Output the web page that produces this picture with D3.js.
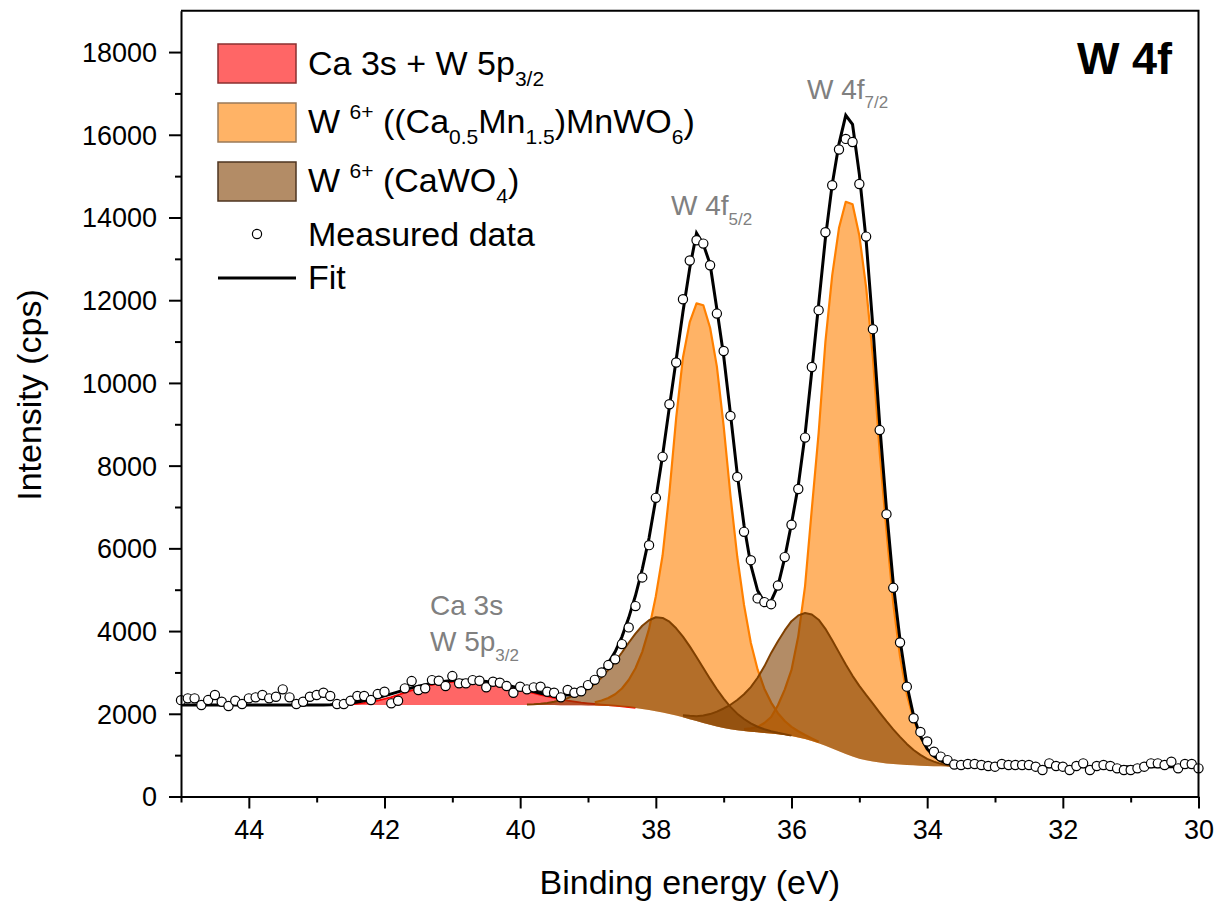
<!DOCTYPE html>
<html><head><meta charset="utf-8">
<script src="https://cdn.jsdelivr.net/npm/d3@7"></script>
<style>
html,body{margin:0;padding:0;background:#fff;}
svg{display:block;font-family:"Liberation Sans", Arial, Helvetica, sans-serif;}
text{white-space:pre;}
</style></head><body>
<svg id="chart" width="1217" height="904"></svg>
<script>
// ---------- DATA ----------
const E_START = 45.0;      // first energy of the measured grid (eV)
const E_STEP = 0.1;        // energy step (eV)

// Measured intensity (cps), 45.0 -> 30.0 eV
const measured = [
 2330,2373,2373,2211,2332,2453,2291,2187,2315,2235,
 2373,2397,2453,2373,2412,2591,2397,2235,2291,2412,
 2453,2508,2429,2235,2235,2315,2429,2429,2332,2477,
 2533,2252,2315,2615,2791,2574,2615,2815,2798,2670,
 2912,2736,2736,2815,2798,2639,2774,2750,2670,2508,
 2653,2591,2639,2653,2533,2508,2397,2574,2508,2545,
 2694,2820,3000,3178,3316,3685,4089,4604,5297,6078,
 7221,8212,9485,10493,12023,12960,13450,13369,12844,11677,
 10773,9202,7728,6399,5715,4790,4700,4650,5100,5788,
 6571,7436,8678,10386,11759,13642,14780,15645,15900,15826,
 14809,13538,11300,8860,6827,5046,3724,2656,1892,1562,
 1330,1082,965,880,773,761,785,785,761,737,
 721,785,761,761,761,761,721,640,802,737,
 721,640,737,802,640,737,761,737,681,640,
 640,681,721,802,802,761,841,681,785,785,
 681
];

// Fit envelope (cps), 45.0 -> 30.0 eV
const fit = [
 2212,2212,2212,2212,2212,2212,2212,2212,2212,2212,
 2212,2212,2212,2212,2212,2212,2212,2212,2212,2212,
 2212,2214,2218,2228,2243,2262,2285,2313,2347,2387,
 2432,2480,2530,2580,2627,2668,2705,2737,2763,2785,
 2802,2811,2812,2806,2795,2778,2755,2727,2694,2657,
 2618,2578,2538,2495,2465,2450,2445,2455,2480,2540,
 2640,2800,3010,3230,3500,3860,4320,4860,5500,6250,
 7200,8250,9420,10560,11720,12780,13620,13350,12870,11780,
 10650,9250,7800,6560,5600,4980,4690,4730,5090,5770,
 6600,7520,8750,10300,11900,13500,14800,15780,16470,16250,
 15050,13450,11350,9000,6950,5150,3780,2700,1950,1460,
 1150,975,860,805,768,748,738,732,728,725,
 722,722,722,722,722,722,722,722,722,722,
 722,722,722,722,722,722,722,722,722,722,
 722,722,722,722,722,722,722,722,722,722,
 722
];

// Shirley background (cps), 42.8 -> 33.5 eV
const BG_START = 42.8;
const background = [
 2210,2210,2210,2210,2210,2210,2210,2210,2210,2210,
 2210,2210,2210,2210,2210,2210,2210,2210,2210,2210,
 2210,2210,2210,2210,2210,2210,2210,2210,2210,2210,
 2210,2210,2210,2210,
 2209,2208,2207,2205,2203,2200,2196,2190,2182,2172,
 2158,2140,2118,2092,2064,2032,1996,1957,1915,1870,
 1823,1777,1733,1693,1658,1628,1603,1583,1566,1551,
 1537,1522,1505,1485,1460,1428,1388,1340,1285,1225,
 1160,1095,1030,968,915,875,845,820,800,785,
 772,762,753,745,739,734,730,727,725,723
];

// Components: net intensity above background (cps)
const caW5pStart = 42.6;   // Ca 3s + W 5p3/2
const caW5p = [
 10,20,35,55,80,110,150,195,245,300,
 355,405,450,490,525,550,562,566,562,552,
 536,515,490,460,428,393,357,325,287,250,
 212,176,142,112,87,66,50,37,27,19,
 13,9,6,4
];
const mixedA_start = 38.9;  // W6+ (Ca0.5Mn1.5)MnWO6, W 4f5/2
const mixedA = [
 80,125,190,290,440,660,960,1380,1960,2780,
 3800,5350,7200,8700,9600,10100,10100,9600,8700,7300,
 5650,4200,3050,2150,1520,1070,750,510,340,225,
 150,100,65,40
];
const mixedB_start = 36.7;  // W6+ (Ca0.5Mn1.5)MnWO6, W 4f7/2
const mixedB = [
 45,80,130,240,400,700,1100,1600,2450,3700,
 5620,7500,9770,11440,12650,13350,13350,12650,11440,9770,
 7500,5620,3880,2610,1710,1100,700,400,240,130,
 80,45
];
const cawoA_start = 39.9;   // W6+ (CaWO4), W 4f5/2
const cawoA = [
 13,21,33,52,80,120,175,
 240,315,400,520,680,870,1080,1310,1560,1800,
 2010,2170,2270,2285,2230,2110,1950,1760,1550,1330,
 1110,900,710,540,400,290,200,135,88,56,
 35,21,12
];
const cawoB_start = 37.6;   // W6+ (CaWO4), W 4f7/2
const cawoB = [
 50,80,120,180,260,360,470,590,730,890,
 1080,1320,1610,1950,2250,2530,2780,2950,3050,3060,
 2990,2830,2620,2390,2160,1950,1760,1580,1400,1210,
 1020,840,670,510,370,260,170,110,60,30,
 15
];

const xTicks = [44,42,40,38,36,34,32,30];
const xMinorTicks = [45,43,41,39,37,35,33,31];
const yTicks = [0,2000,4000,6000,8000,10000,12000,14000,16000,18000];
const yMinorTicks = [1000,3000,5000,7000,9000,11000,13000,15000,17000];

// ---------- CHART ----------
const svg = d3.select("#chart");
const L = 181, R = 1198.5, T = 10.7, B = 796.5;
const x = d3.scaleLinear().domain([45,30]).range([L,R]);
const y = d3.scaleLinear().domain([0,19000]).range([B,T]);

const eAt = (start,i) => +(start - i*E_STEP).toFixed(1);
const bgIdx = e => Math.round((BG_START - e)/E_STEP);

const COL_RED = "#FF0000", COL_OR = "#FF8000", COL_BR = "#804000";

const plot = svg.append("g");

function drawComponent(start, values, color, sw) {
  const pts = values.map((v,i) => {
    const e = eAt(start,i);
    const b = background[bgIdx(e)];
    return {e, b, t: b + v};
  });
  const area = d3.area().x(d=>x(d.e)).y0(d=>y(d.b)).y1(d=>y(d.t));
  const line = d3.line().x(d=>x(d.e)).y(d=>y(d.t));
  plot.append("path").attr("d", area(pts)).attr("fill", color).attr("fill-opacity", 0.6);
  plot.append("path").attr("d", line(pts)).attr("fill","none").attr("stroke",color)
      .attr("stroke-width", sw).attr("stroke-linejoin","round");
}
drawComponent(caW5pStart, caW5p, COL_RED, 1.8);
drawComponent(mixedA_start, mixedA, COL_OR, 2.2);
drawComponent(mixedB_start, mixedB, COL_OR, 2.2);
drawComponent(cawoA_start, cawoA, COL_BR, 2);
drawComponent(cawoB_start, cawoB, COL_BR, 2);

// fit
const fitPts = fit.map((v,i)=>({e:eAt(E_START,i), v}));
plot.append("path")
  .attr("d", d3.line().x(d=>x(d.e)).y(d=>y(d.v))(fitPts))
  .attr("fill","none").attr("stroke","#000").attr("stroke-width",3).attr("stroke-linejoin","miter");

// measured data
const dataPts = measured.map((v,i)=>({e:eAt(E_START,i), v}));
plot.selectAll("circle.pt").data(dataPts).enter().append("circle")
  .attr("class","pt")
  .attr("cx", d=>x(d.e)).attr("cy", d=>y(d.v)).attr("r", 4.6)
  .attr("fill","#fff").attr("stroke","#000").attr("stroke-width",1.2);

// ---------- AXES ----------
const axG = svg.append("g");
const xAxis = axG.append("g").attr("transform",`translate(0,${B})`)
  .call(d3.axisBottom(x).tickValues(xTicks).tickSize(12).tickSizeOuter(0).tickPadding(11.5).tickFormat(d3.format("d")));
const xMinor = axG.append("g").attr("transform",`translate(0,${B})`)
  .call(d3.axisBottom(x).tickValues(xMinorTicks).tickSize(6).tickSizeOuter(0).tickFormat(""));
const yAxis = axG.append("g").attr("transform",`translate(${L},0)`)
  .call(d3.axisLeft(y).tickValues(yTicks).tickSize(12).tickSizeOuter(0).tickPadding(12).tickFormat(d3.format("d")));
const yMinor = axG.append("g").attr("transform",`translate(${L},0)`)
  .call(d3.axisLeft(y).tickValues(yMinorTicks).tickSize(6).tickSizeOuter(0).tickFormat(""));
[xMinor,yMinor].forEach(g=>g.select(".domain").remove());
axG.selectAll(".tick line").attr("stroke","#000").attr("stroke-width",2);
axG.selectAll(".domain").attr("stroke","#000").attr("stroke-width",2);
axG.selectAll(".tick text").attr("font-size",27).attr("fill","#000")
  .attr("font-family",'"Liberation Sans", Arial, sans-serif');
yAxis.selectAll(".tick text").attr("dy","0.35em");

// frame (top, right)
axG.append("path").attr("d",`M${L},${T}H${R}V${B}`).attr("fill","none")
  .attr("stroke","#000").attr("stroke-width",2);

// axis titles
svg.append("text").attr("x",(L+R)/2).attr("y",894).attr("text-anchor","middle")
  .attr("font-size",34).text("Binding energy (eV)");
svg.append("text").attr("transform","translate(41,395) rotate(-90)").attr("text-anchor","middle")
  .attr("font-size",34).text("Intensity (cps)");

// ---------- rich text helper ----------
function rich(sel, x0, y0, parts, o) {
  const t = sel.append("text").attr("x",x0).attr("y",y0).attr("font-size",o.size)
    .attr("fill",o.fill||"#000");
  let cur = 0;
  parts.forEach(p=>{
    const target = p.sup ? -o.sup : (p.sub ? o.sub : 0);
    t.append("tspan").attr("dy", target-cur)
      .attr("font-size", (p.sup||p.sub) ? o.small : o.size).text(p.t);
    cur = target;
  });
  return t;
}

// peak labels
const gray = "#808080";
rich(svg, 807, 99, [{t:"W 4f"},{t:"7/2",sub:true}], {size:28, small:17, sub:9, fill:gray});
rich(svg, 671, 215, [{t:"W 4f"},{t:"5/2",sub:true}], {size:28, small:17, sub:10, fill:gray});
rich(svg, 430, 615, [{t:"Ca 3s"}], {size:28, fill:gray});
rich(svg, 430, 651, [{t:"W 5p"},{t:"3/2",sub:true}], {size:28, small:17, sub:10, fill:gray});

// title
svg.append("text").attr("x",1172).attr("y",74).attr("text-anchor","end")
  .attr("font-size",45).attr("font-weight","bold").text("W 4f");

// ---------- LEGEND ----------
const lg = svg.append("g");
const swX = 218, swW = 78, swH = 39;
const legendItems = [
  {y:44, fill:COL_RED, stroke:"#8a3030"},
  {y:103, fill:COL_OR, stroke:"#9a7a58"},
  {y:162, fill:COL_BR, stroke:"#4e3420"}
];
legendItems.forEach(d=>{
  lg.append("rect").attr("x",swX).attr("y",d.y).attr("width",swW).attr("height",swH)
    .attr("fill",d.fill).attr("fill-opacity",0.6).attr("stroke",d.stroke).attr("stroke-width",1.5);
});
const lo = {size:34, small:21, sup:14, sub:11};
rich(lg, 308, 75, [{t:"Ca 3s + W 5p"},{t:"3/2",sub:true}], lo);
rich(lg, 308, 133, [{t:"W "},{t:"6+",sup:true},{t:" ((Ca"},{t:"0.5",sub:true},{t:"Mn"},{t:"1.5",sub:true},{t:")MnWO"},{t:"6",sub:true},{t:")"}], lo);
rich(lg, 308, 192, [{t:"W "},{t:"6+",sup:true},{t:" (CaWO"},{t:"4",sub:true},{t:")"}], lo);
lg.append("circle").attr("cx",257).attr("cy",234).attr("r",4.6).attr("fill","#fff")
  .attr("stroke","#000").attr("stroke-width",1.2);
rich(lg, 308, 246, [{t:"Measured data"}], lo);
lg.append("line").attr("x1",swX).attr("x2",swX+swW).attr("y1",278).attr("y2",278)
  .attr("stroke","#000").attr("stroke-width",3);
rich(lg, 308, 289, [{t:"Fit"}], lo);
</script>
</body></html>
